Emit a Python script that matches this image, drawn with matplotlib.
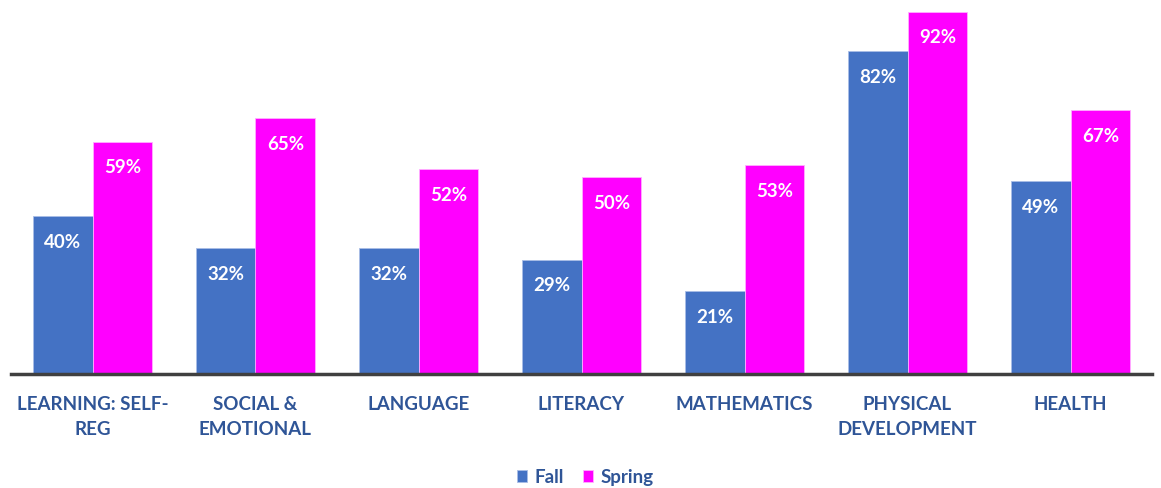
import matplotlib.pyplot as plt
import numpy as np

categories = ['LEARNING: SELF-\nREG', 'SOCIAL &\nEMOTIONAL', 'LANGUAGE', 'LITERACY',
              'MATHEMATICS', 'PHYSICAL\nDEVELOPMENT', 'HEALTH']
fall = [40, 32, 32, 29, 21, 82, 49]
spring = [59, 65, 52, 50, 53, 92, 67]

plt.rcParams['font.family'] = ['Lato', 'DejaVu Sans']

fig = plt.figure(figsize=(11.61, 4.89), dpi=100)
ax = fig.add_axes([11 / 1161, (489 - 375) / 489, (1152 - 11) / 1161, 375 / 489])

x = np.arange(len(categories))
w = 0.368
b1 = ax.bar(x - w / 2, fall, w, color='#4472C4', edgecolor='#A9BDE6', linewidth=0.6, label='Fall')
b2 = ax.bar(x + w / 2, spring, w, color='#FF00FF', edgecolor='#FFB0FF', linewidth=0.6, label='Spring')

for bars, vals in ((b1, fall), (b2, spring)):
    for r, v in zip(bars, vals):
        ax.text(r.get_x() + r.get_width() / 2, v - 6.4, f'{v}%', ha='center', va='center',
                color='white', fontsize=13.5, fontweight='bold')

ax.set_xlim(-0.5, 6.5)
ax.set_ylim(0, 95.2)
ax.set_yticks([])
ax.set_xticks(x)
ax.set_xticklabels(categories, fontsize=13.5, fontweight='bold', color='#2F5597', linespacing=1.6)
ax.tick_params(axis='x', length=0, pad=15)
for s in ['top', 'right', 'left']:
    ax.spines[s].set_visible(False)
ax.spines['bottom'].set_color('#404040')
ax.spines['bottom'].set_linewidth(2.5)

leg = fig.legend(handles=[b1, b2], loc='center', bbox_to_anchor=(585 / 1161, 1 - 478 / 489),
                 ncol=2, frameon=False, handlelength=0.55, handleheight=0.55, handletextpad=0.4,
                 columnspacing=1.0, prop={'weight': 'bold', 'size': 13.5})
for t in leg.get_texts():
    t.set_color('#2F5597')

fig.savefig('out.png', dpi=100)
